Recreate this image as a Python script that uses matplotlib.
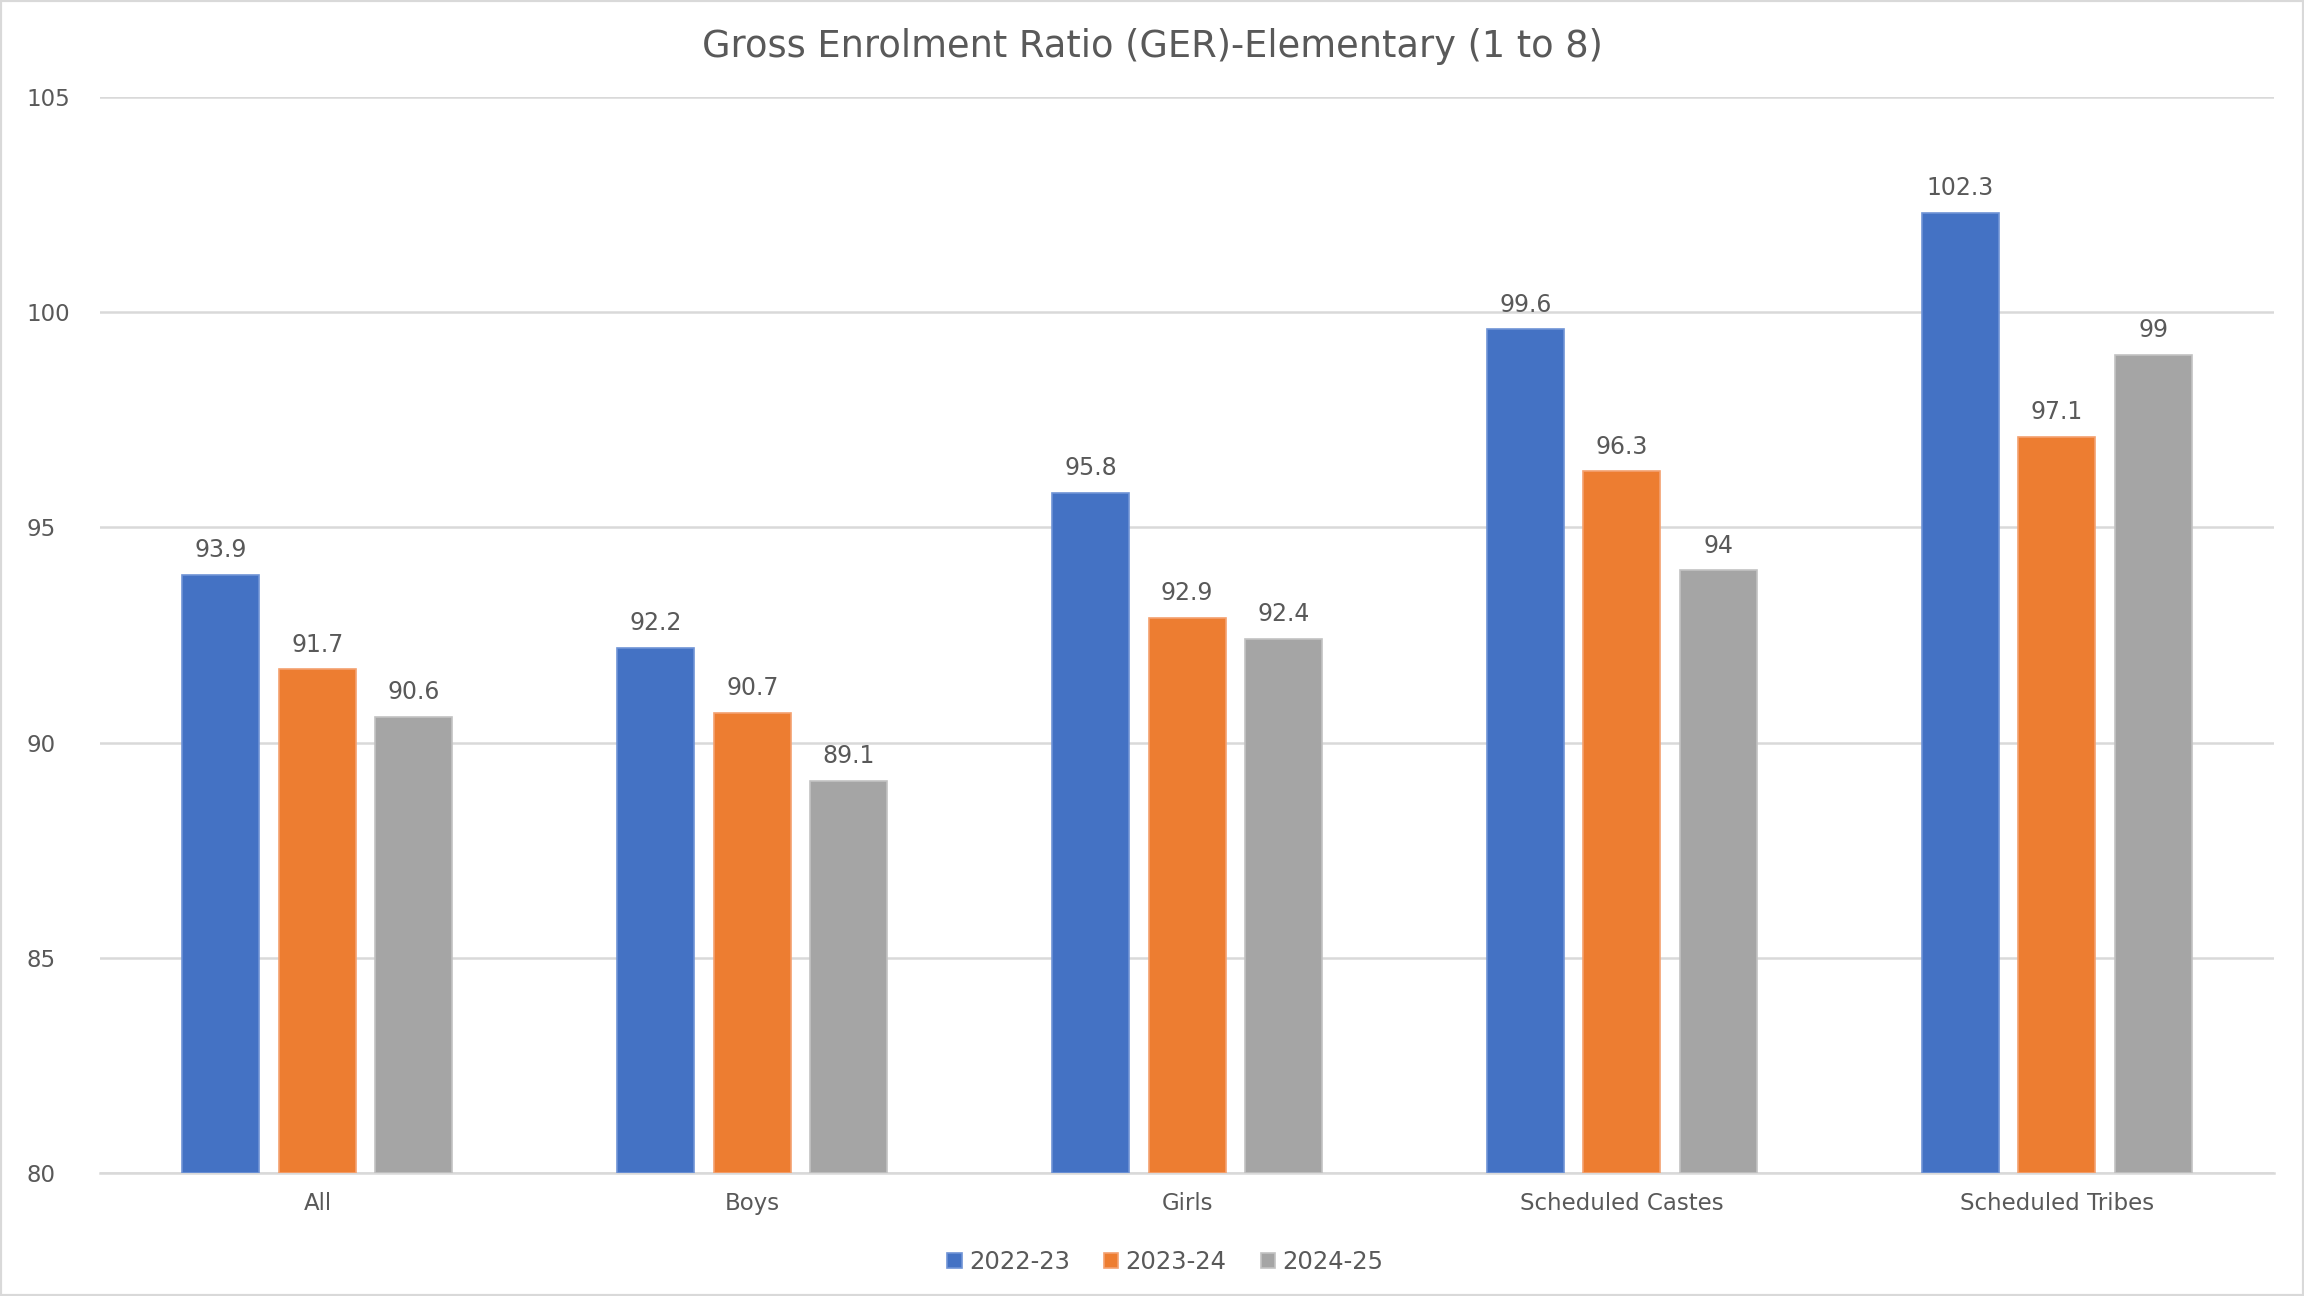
import matplotlib.pyplot as plt
import numpy as np

plt.rcParams['font.family'] = ['DejaVu Sans']

categories = ['All', 'Boys', 'Girls', 'Scheduled Castes', 'Scheduled Tribes']
years = ['2022-23', '2023-24', '2024-25']
ger_2022 = [93.9, 92.2, 95.8, 99.6, 102.3]
ger_2023 = [91.7, 90.7, 92.9, 96.3, 97.1]
ger_2024 = [90.6, 89.1, 92.4, 94, 99]
colors = ['#4472C4', '#ED7D31', '#A5A5A5']
edge_colors = ['#6F93D6', '#F4A170', '#C2C2C2']
text_col = '#595959'

fig = plt.figure(figsize=(23.04, 12.96), dpi=100)
ax = fig.add_axes([0.0434, 0.0949, 0.9436, 0.8302])

x = np.arange(len(categories))
width = 0.177
step = 0.222
for i, vals in enumerate([ger_2022, ger_2023, ger_2024]):
    bars = ax.bar(x + (i - 1) * step, [v - 80 for v in vals], width, bottom=80,
                  color=colors[i], label=years[i], edgecolor=edge_colors[i],
                  linewidth=1.2, zorder=3)
    for b, v in zip(bars, vals):
        ax.text(b.get_x() + b.get_width() / 2, v + 0.3, f'{v:g}',
                ha='center', va='bottom', fontsize=17, color=text_col)

ax.set_xlim(-0.5, 4.5)
ax.set_ylim(80, 105)
ax.set_yticks([80, 85, 90, 95, 100, 105])
ax.set_xticks(x)
ax.set_xticklabels(categories)
ax.grid(axis='y', color='#D9D9D9', linewidth=1.8, zorder=0)
for s in ['top', 'right', 'left']:
    ax.spines[s].set_visible(False)
ax.spines['bottom'].set_color('#D9D9D9')
ax.spines['bottom'].set_linewidth(1.8)
ax.tick_params(axis='both', length=0, labelsize=16.5, colors=text_col)
ax.tick_params(axis='y', pad=53)
ax.tick_params(axis='x', pad=14)
for t in ax.get_yticklabels():
    t.set_horizontalalignment('left')

fig.suptitle('Gross Enrolment Ratio (GER)-Elementary (1 to 8)', y=0.964, va='center',
             fontsize=26.5, color=text_col)
ax.legend(loc='center', bbox_to_anchor=(0.49, -0.083), ncol=3, frameon=False,
          fontsize=17.5, labelcolor=text_col, handlelength=0.6, handleheight=0.6,
          handletextpad=0.3, columnspacing=1.4)

fig.patches.append(plt.Rectangle((0, 0), 1, 1, transform=fig.transFigure,
                                 fill=False, edgecolor='#D9D9D9', linewidth=3))
fig.savefig('out.png', dpi=100)
